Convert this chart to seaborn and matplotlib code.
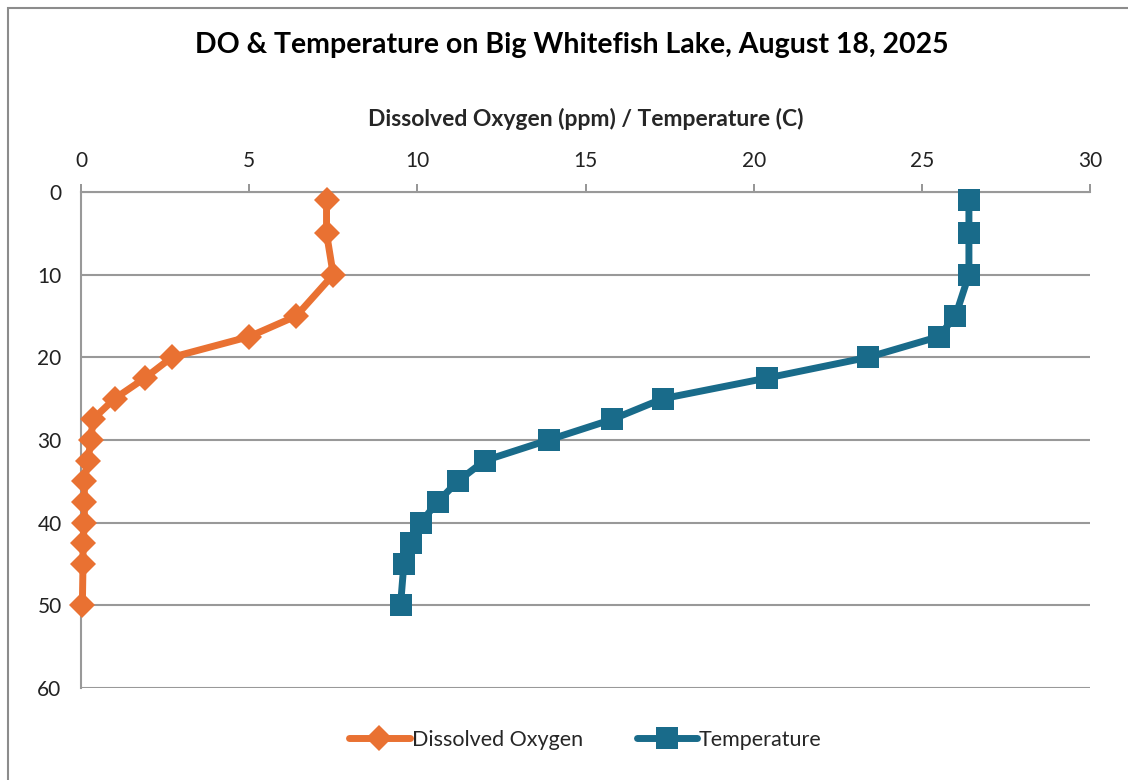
import matplotlib
matplotlib.use("Agg")
import matplotlib.pyplot as plt
import seaborn as sns
import pandas as pd
from matplotlib.patches import Rectangle

depth = [1, 5, 10, 15, 17.5, 20, 22.5, 25, 27.5, 30, 32.5, 35, 37.5, 40, 42.5, 45, 50]
dissolved_oxygen = [7.3, 7.3, 7.5, 6.4, 5.0, 2.7, 1.9, 1.0, 0.35, 0.3, 0.2, 0.1, 0.1, 0.1, 0.06, 0.06, 0.04]
temperature = [26.4, 26.4, 26.4, 26.0, 25.5, 23.4, 20.4, 17.3, 15.8, 13.9, 12.0, 11.2, 10.6, 10.1, 9.8, 9.6, 9.5]
series_names = ["Dissolved Oxygen", "Temperature"]
x_ticks = [0, 5, 10, 15, 20, 25, 30]
y_ticks = [0, 10, 20, 30, 40, 50, 60]
title = "DO & Temperature on Big Whitefish Lake, August 18, 2025"
x_label = "Dissolved Oxygen (ppm) / Temperature (C)"

df = pd.concat([
    pd.DataFrame({"Depth": depth, "Value": dissolved_oxygen, "Series": series_names[0]}),
    pd.DataFrame({"Depth": depth, "Value": temperature, "Series": series_names[1]}),
])

sns.set_theme(style="white")
plt.rcParams["font.family"] = ["Lato", "DejaVu Sans"]

fig = plt.figure(figsize=(11.28, 7.8), dpi=100)
ax = fig.add_axes([81/1128, 1-688/780, (1090-81)/1128, (688-192)/780])

# outer chart frame
fig.patches.append(Rectangle((8/1128, -0.1), 1.2, 1-8/780+0.1, transform=fig.transFigure,
                             fill=False, edgecolor="#8c8c8c", linewidth=1.5))

colors = {"Dissolved Oxygen": "#E97132", "Temperature": "#196B8A"}
markers = {"Dissolved Oxygen": "D", "Temperature": "s"}
sizes = {"Dissolved Oxygen": 13.5, "Temperature": 16}

for name in series_names:
    sub = df[df["Series"] == name]
    sns.lineplot(data=sub, x="Value", y="Depth", sort=False, estimator=None, ax=ax,
                 color=colors[name], linewidth=5, marker=markers[name],
                 markersize=sizes[name], markeredgewidth=0, label=name, zorder=3,
                 clip_on=False)

ax.set_xlim(0, 30)
ax.set_ylim(60, 0)
ax.set_xticks(x_ticks)
ax.set_yticks(y_ticks)
ax.xaxis.tick_top()
ax.xaxis.set_label_position("top")
ax.set_xlabel(x_label, fontsize=16.5, fontweight="bold", labelpad=18)
ax.set_ylabel("")
ax.tick_params(axis="x", labelsize=15, length=6, width=1.3, color="#8c8c8c", pad=9, direction="out")
ax.tick_params(axis="y", labelsize=15, length=6, width=1.3, color="#8c8c8c", pad=8, direction="out")
for lab in ax.get_xticklabels() + ax.get_yticklabels():
    lab.set_color("#222222")

ax.grid(axis="y", color="#999999", linewidth=1.5)
ax.grid(axis="x", visible=False)
for s in ["right", "bottom"]:
    ax.spines[s].set_visible(False)
for s in ["left", "top"]:
    ax.spines[s].set_color("#999999")
    ax.spines[s].set_linewidth(1.5)
ax.set_axisbelow(True)

fig.text(0.507, 1-45/780, title, ha="center", va="center", fontsize=20.5, fontweight="bold", color="black")

leg = ax.legend(loc="upper center", bbox_to_anchor=(0.5, -0.045), ncol=2, frameon=False,
                fontsize=15.5, handlelength=2.8, handletextpad=0.1, columnspacing=2.5)

fig.savefig("out.png", dpi=100)
